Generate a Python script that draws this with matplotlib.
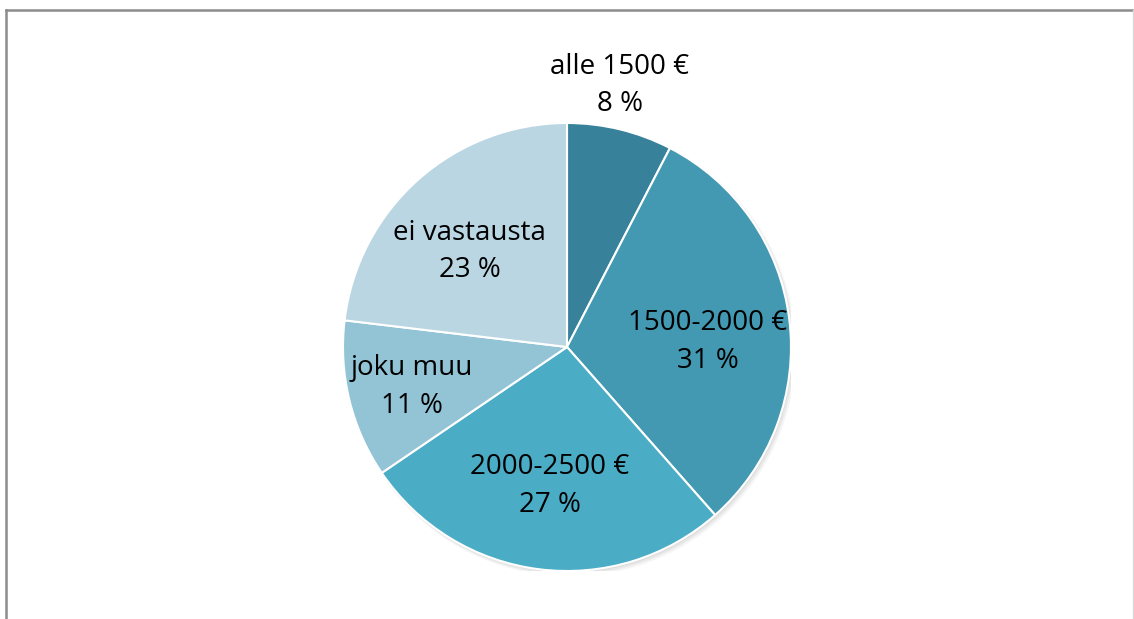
import matplotlib
matplotlib.use("Agg")
import numpy as np
import matplotlib.pyplot as plt
from matplotlib.patches import Circle
from matplotlib.lines import Line2D

# data (slice sizes, labels show rounded values)
categories = ["alle 1500 €", "1500-2000 €", "2000-2500 €", "joku muu", "ei vastausta"]
shares = [7.6, 30.9, 27.0, 11.4, 23.1]
label_pct = [8, 31, 27, 11, 23]
colors = ["#37829A", "#4399B2", "#4BACC6", "#93C4D6", "#BAD6E2"]
# label placement: distance (fraction of radius) and angle nudge (deg) from wedge middle
label_dist = [1.19, 0.63, 0.625, 0.715, 0.61]
label_nudge = [2.3, -5.0, 0.0, 0.8, 4.0]

plt.rcParams["font.family"] = ["Open Sans", "DejaVu Sans"]

W, H = 1134, 619
fig = plt.figure(figsize=(W / 100, H / 100), dpi=100)
fig.patch.set_facecolor("white")

# chart frame (top / left visible, right faint)
fig.add_artist(Line2D([6 / W, 6 / W], [0, 1 - 9.5 / H], color="#8c8c8c", lw=1.8))
fig.add_artist(Line2D([6 / W, 1], [1 - 9.5 / H, 1 - 9.5 / H], color="#8c8c8c", lw=1.8))
fig.add_artist(Line2D([1133 / W, 1133 / W], [0, 1 - 9.5 / H], color="#d9d9d9", lw=1.0))

cx, cy, r = 567, 347, 224
ax = fig.add_axes([(cx - r) / W, (H - cy - r) / H, 2 * r / W, 2 * r / H])

# soft shadow behind the pie
for k, a in enumerate([0.05, 0.05, 0.04]):
    ax.add_patch(Circle((0.006 + k * 0.004, -0.008 - k * 0.004), 1.0 + 0.004 * k,
                        color="black", alpha=a, lw=0, zorder=0))

wedges, _ = ax.pie(shares, colors=colors, startangle=90, counterclock=False,
                   radius=1.0, wedgeprops=dict(edgecolor="white", linewidth=1.5))
for w in wedges:
    w.set_zorder(2)
    w.set_clip_on(False)

# pie() resets the limits, so set them afterwards
ax.set_xlim(-1, 1)
ax.set_ylim(-1, 1)
ax.set_aspect("equal")
ax.axis("off")

for w, name, val, d, nd in zip(wedges, categories, label_pct, label_dist, label_nudge):
    mid = np.deg2rad((w.theta1 + w.theta2) / 2 + nd)
    x, y = d * np.cos(mid), d * np.sin(mid)
    ax.text(x, y, f"{name}\n{val} %", ha="center", va="center", fontsize=20,
            color="black", linespacing=1.45, zorder=5, clip_on=False)

fig.savefig("out.png", dpi=100)
